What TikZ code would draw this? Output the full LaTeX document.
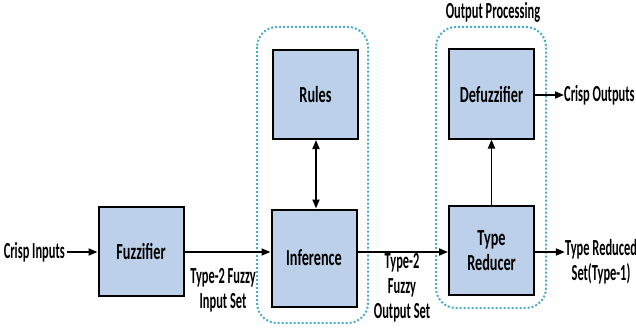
\documentclass[tikz,border=0pt]{standalone}
\usepackage{fontspec}
\setmainfont{Carlito}
\usetikzlibrary{arrows.meta}
\definecolor{boxfill}{HTML}{BDD0E9}
\definecolor{grpline}{HTML}{4BACC6}
% narrow text for block captions and for free labels
\newcommand\bq[1]{\scalebox{0.62}[1]{#1}}
\newcommand\sq[1]{\scalebox{0.54}[1]{#1}}
\tikzset{
  blk/.style={draw=black, line width=2pt, fill=boxfill, minimum width=85pt, minimum height=89pt, inner sep=0pt},
  grp/.style={draw=grpline, line width=2pt, dash pattern=on 2pt off 2pt, rounded corners=20pt},
  lbl/.style={inner sep=0pt, align=center},
  conn/.style={line width=1.8pt, -{Triangle[length=9pt,width=7pt]}},
  every node/.style={font=\bfseries\fontsize{23}{25}\selectfont}
}
\begin{document}
\begin{tikzpicture}[x=1pt,y=-1pt]
  \useasboundingbox (0,0) rectangle (636,329);
  % group frames
  \draw[grp] (257,27) rectangle (368,323);
  \draw[grp] (436,27) rectangle (546,308);
  \node[lbl] (optitle) at (493,12) {\sq{Output Processing}};
  % processing blocks
  \node[blk] (fuzz) at (141,251) {\bq{Fuzzifier}};
  \node[blk] (rules) at (315.5,94.5) {\bq{Rules}};
  \node[blk, minimum height=97pt] (inf) at (314,258) {\bq{Inference}};
  \node[blk] (defuz) at (491.5,94) {\bq{Defuzzifier}};
  \node[blk, align=center] (tred) at (491.5,250.5) {\bq{Type}\\\bq{Reducer}};
  % free ends
  \node[lbl, anchor=east] (cin) at (65,252) {\sq{Crisp Inputs}};
  \node[lbl, anchor=west] (cout) at (564,95) {\sq{Crisp Outputs}};
  \node[lbl] (tset) at (601,262) {\sq{Type Reduced}\\\sq{Set(Type-1)}};
  % connector labels
  \node[lbl] (l1) at (223,290) {\sq{Type-2 Fuzzy}\\\sq{Input Set}};
  \node[lbl] (l2) at (402,288) {\sq{Type-2}\\\sq{Fuzzy}\\\sq{Output Set}};
  % connectors
  \draw[conn] (cin.east) ++(2,0) -- (fuzz.west |- 0,252);
  \draw[conn] (fuzz.east |- 0,252) -- (inf.west |- 0,252);
  \draw[conn] (inf.east |- 0,252) -- (tred.west |- 0,252);
  \draw[conn] (tred.east |- 0,252) -- (tset.west |- 0,252);
  \draw[conn] (defuz.east |- 0,95) -- (cout.west);
  \draw[conn] (tred.north) -- (defuz.south);
  \draw[line width=1.8pt, {Triangle[length=9pt,width=7pt]}-{Triangle[length=9pt,width=7pt]}] (rules.south -| 316,0) -- (inf.north -| 316,0);
\end{tikzpicture}
\end{document}
